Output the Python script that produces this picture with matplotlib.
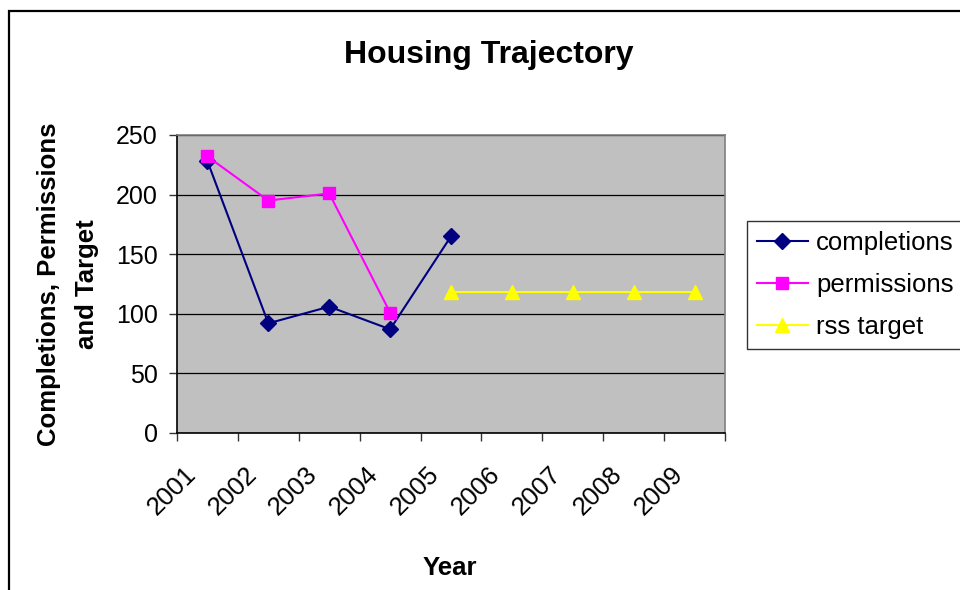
import matplotlib
matplotlib.use('Agg')
import matplotlib.pyplot as plt
import matplotlib.patches as mpatches
import matplotlib.transforms as mtransforms
import numpy as np

plt.rcParams['font.family'] = ['Liberation Sans', 'DejaVu Sans']

# --- Data ---
years = ['2001', '2002', '2003', '2004', '2005', '2006', '2007', '2008', '2009']
completions = [228, 92, 106, 87, 165, np.nan, np.nan, np.nan, np.nan]
permissions = [232, 195, 201, 101, np.nan, np.nan, np.nan, np.nan, np.nan]
rss_target = [np.nan, np.nan, np.nan, np.nan, 118, 118, 118, 118, 118]
y_ticks = [0, 50, 100, 150, 200, 250]

W, H = 960, 590
fig = plt.figure(figsize=(W / 100, H / 100), dpi=100)

# outer chart border (runs off the right and bottom edges)
border = mpatches.Rectangle((9 / W, -0.1), 2.0, (H - 11) / H + 0.1,
                            transform=fig.transFigure, fill=False,
                            edgecolor='black', linewidth=1.6, clip_on=False)
fig.patches.append(border)

ax = fig.add_axes([177 / W, 1 - 433 / H, 548 / W, 298 / H])
ax.set_facecolor('#C0C0C0')

x = np.arange(len(years))
ax.plot(x, completions, color='#000080', linewidth=1.5, marker='D',
        markersize=8.5, markerfacecolor='#000080', markeredgecolor='#000080',
        label='completions', zorder=3)
ax.plot(x, permissions, color='#FF00FF', linewidth=1.5, marker='s',
        markersize=9, markerfacecolor='#FF00FF', markeredgecolor='#FF00FF',
        label='permissions', zorder=4)
ax.plot(x, rss_target, color='#FFFF00', linewidth=1.5, marker='^',
        markersize=10, markerfacecolor='#FFFF00', markeredgecolor='#FFFF00',
        label='rss target', zorder=3)

ax.set_xlim(-0.5, len(years) - 0.5)
ax.set_ylim(0, 250)
ax.set_yticks(y_ticks)
ax.set_yticklabels([str(v) for v in y_ticks], fontsize=18)
ax.yaxis.grid(True, color='black', linewidth=0.9)
ax.set_axisbelow(True)

ax.set_xticks(np.arange(len(years) + 1) - 0.5)
ax.set_xticklabels([])
ax.tick_params(axis='both', direction='out', length=6, width=1, color='#333333')
ax.tick_params(axis='y', pad=8)

for side in ['top', 'right']:
    ax.spines[side].set_color('#808080')
    ax.spines[side].set_linewidth(1.2)
for side in ['left', 'bottom']:
    ax.spines[side].set_color('black')
    ax.spines[side].set_linewidth(1.2)

# rotated year labels under category centres
offset = mtransforms.ScaledTranslation(-7 / 100, -29 / 100, fig.dpi_scale_trans)
for xi, yr in zip(x, years):
    ax.text(xi, 0, yr, transform=ax.get_xaxis_transform() + offset,
            rotation=45, ha='right', va='top', fontsize=18.5)

fig.text(489 / W, 1 - 63 / H, 'Housing Trajectory', ha='center',
         va='baseline', fontsize=23, fontweight='bold')
fig.text(450 / W, 1 - 575 / H, 'Year', ha='center', va='baseline',
         fontsize=18.5, fontweight='bold')
fig.text(68 / W, 1 - 284 / H, 'Completions, Permissions\nand Target',
         rotation=90, ha='center', va='center', multialignment='center',
         fontsize=18.5, fontweight='bold', linespacing=1.7)

leg = fig.legend(loc='upper left', bbox_to_anchor=(747 / W, 1 - 221 / H),
                 fontsize=18.5, frameon=True, fancybox=False, edgecolor='black',
                 handlelength=2.0, handletextpad=0.3, labelspacing=0.7,
                 borderpad=0.38, borderaxespad=0)
leg.get_frame().set_linewidth(1.0)

fig.savefig('out.png', dpi=100)
